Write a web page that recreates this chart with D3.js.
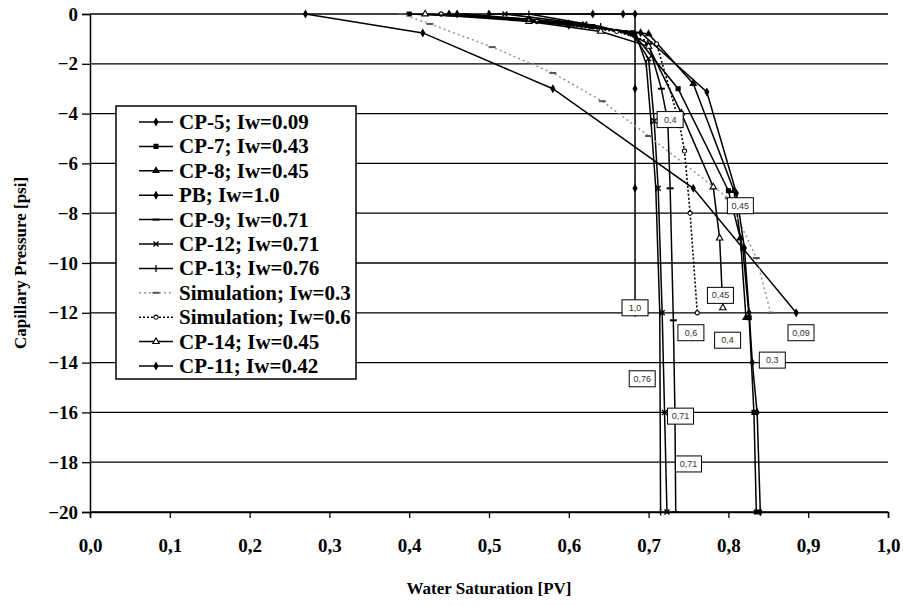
<!DOCTYPE html>
<html>
<head>
<meta charset="utf-8">
<script src="https://cdn.jsdelivr.net/npm/d3@7"></script>
<style>
  body { margin: 0; background: #ffffff; }
  svg { display: block; }
</style>
</head>
<body>
<svg></svg>
<script>
// Tick values
let xTicks = [0, 0.1, 0.2, 0.3, 0.4, 0.5, 0.6, 0.7, 0.8, 0.9, 1.0];
let yTicks = [0, -2, -4, -6, -8, -10, -12, -14, -16, -18, -20];

// Series: [water saturation, capillary pressure]
let cp5 = [[0.27, 0], [0.417, -0.76], [0.58, -3], [0.756, -7], [0.885, -12]];
let cp7 = [[0.40, 0], [0.55, -0.2], [0.63, -0.5], [0.68, -0.75], [0.737, -3], [0.80, -7.1], [0.818, -9.4], [0.826, -12.2], [0.832, -16], [0.835, -20]];
let cp8 = [[0.45, 0], [0.60, -0.4], [0.70, -0.8], [0.756, -2.8], [0.807, -7.1], [0.815, -9], [0.822, -12.2]];
let pb = [[0.50, 0], [0.63, 0], [0.668, 0], [0.683, 0], [0.683, -0.9], [0.683, -3], [0.683, -7], [0.683, -12]];
let cp9 = [[0.47, 0], [0.60, -0.35], [0.67, -0.7], [0.70, -1.2], [0.716, -3], [0.724, -4.3], [0.727, -7], [0.731, -12.3], [0.733, -16], [0.734, -20]];
let cp12 = [[0.52, 0], [0.62, -0.4], [0.68, -0.8], [0.70, -1.8], [0.707, -4.3], [0.712, -7], [0.717, -12], [0.72, -16], [0.723, -20]];
let cp13 = [[0.55, 0], [0.64, -0.5], [0.685, -0.9], [0.697, -2], [0.703, -4.3], [0.709, -7], [0.714, -12], [0.715, -20]];
let sim03 = [[0.39, 0], [0.426, -0.4], [0.504, -1.33], [0.58, -2.37], [0.642, -3.5], [0.70, -4.9], [0.80, -7.4], [0.835, -9.8], [0.853, -12]];
let sim06 = [[0.44, 0], [0.56, -0.3], [0.66, -0.7], [0.71, -1.2], [0.738, -4.3], [0.745, -5.5], [0.752, -8], [0.761, -12]];
let cp14 = [[0.42, 0], [0.55, -0.3], [0.64, -0.7], [0.70, -1.3], [0.741, -3.98], [0.781, -6.95], [0.789, -9], [0.793, -11.8]];
let cp11 = [[0.46, 0], [0.60, -0.45], [0.69, -0.75], [0.773, -3.13], [0.81, -7.2], [0.82, -9.4], [0.826, -12], [0.83, -14], [0.836, -16], [0.84, -20]];

// Legend names
let seriesNames = ['CP-5; Iw=0.09', 'CP-7; Iw=0.43', 'CP-8; Iw=0.45', 'PB; Iw=1.0', 'CP-9; Iw=0.71',
    'CP-12; Iw=0.71', 'CP-13; Iw=0.76', 'Simulation; Iw=0.3', 'Simulation; Iw=0.6', 'CP-14; Iw=0.45', 'CP-11; Iw=0.42'];

// Boxed labels inside the plot
let labelTexts = ['0,4', '0,45', '1,0', '0,45', '0,6', '0,4', '0,09', '0,3', '0,76', '0,71', '0,71'];
let labelSw = [0.727, 0.815, 0.683, 0.79, 0.753, 0.799, 0.891, 0.855, 0.692, 0.74, 0.75];
let labelPc = [-4.24, -7.7, -11.8, -11.3, -12.8, -13.1, -12.8, -13.9, -14.65, -16.15, -18.07];

// Series table (style per series)
let series = [
    { name: seriesNames[0], data: cp5, marker: 'diamond', color: '#000', dash: null },
    { name: seriesNames[1], data: cp7, marker: 'square', color: '#000', dash: null },
    { name: seriesNames[2], data: cp8, marker: 'triangle', color: '#000', dash: null },
    { name: seriesNames[3], data: pb, marker: 'diamond', color: '#000', dash: null },
    { name: seriesNames[4], data: cp9, marker: 'dash', color: '#000', dash: null },
    { name: seriesNames[5], data: cp12, marker: 'times', color: '#000', dash: null },
    { name: seriesNames[6], data: cp13, marker: 'tick', color: '#000', dash: null },
    { name: seriesNames[7], data: sim03, marker: 'dash', color: '#999', dash: '2,3' },
    { name: seriesNames[8], data: sim06, marker: 'circle', color: '#000', dash: '2,2' },
    { name: seriesNames[9], data: cp14, marker: 'triangleOpen', color: '#000', dash: null },
    { name: seriesNames[10], data: cp11, marker: 'diamond', color: '#000', dash: null }
];

// SVG Dimensions
let width = 903, height = 605;
let plotLeft = 90, plotRight = 888, plotTop = 14, plotBottom = 512;
let xScale, yScale;
let svg = d3.select('svg');

function drawSvg() {
    svg.attr('width', width).attr('height', height);
}

function generateScales() {
    xScale = d3.scaleLinear().domain([0, 1]).range([plotLeft, plotRight]);
    yScale = d3.scaleLinear().domain([0, -20]).range([plotTop, plotBottom]);
}

function generateAxes() {
    // horizontal grid lines
    svg.append('g')
        .selectAll('line')
        .data(yTicks)
        .enter()
        .append('line')
        .attr('x1', plotLeft)
        .attr('x2', plotRight)
        .attr('y1', d => yScale(d))
        .attr('y2', d => yScale(d))
        .attr('stroke', '#000')
        .attr('stroke-width', 1.3);

    let fmt = d => d3.format('.1f')(d).replace('.', ',');

    let xAxis = d3.axisBottom(xScale).tickValues(xTicks).tickFormat(fmt).tickSize(6).tickPadding(28);
    let gx = svg.append('g')
        .attr('id', 'x-axis')
        .attr('transform', `translate(0, ${plotBottom})`)
        .call(xAxis);

    let yAxis = d3.axisLeft(yScale).tickValues(yTicks).tickFormat(d3.format('d')).tickSize(8).tickPadding(4);
    let gy = svg.append('g')
        .attr('id', 'y-axis')
        .attr('transform', `translate(${plotLeft}, 0)`)
        .call(yAxis);

    [gx, gy].forEach(g => {
        g.select('.domain').attr('stroke', '#000').attr('stroke-width', 1.5);
        g.selectAll('.tick line').attr('stroke', '#000').attr('stroke-width', 1.3);
        g.selectAll('.tick text')
            .attr('fill', '#000')
            .style('font-family', '"Liberation Serif", "Times New Roman", serif')
            .style('font-weight', 'bold')
            .style('font-size', '19px');
    });
    gx.selectAll('.tick text').attr('dy', '0.32em');

    svg.append('text')
        .attr('x', (plotLeft + plotRight) / 2)
        .attr('y', 594)
        .attr('text-anchor', 'middle')
        .style('font-family', '"Liberation Serif", "Times New Roman", serif')
        .style('font-weight', 'bold')
        .style('font-size', '17px')
        .text('Water Saturation [PV]');

    svg.append('text')
        .attr('transform', `translate(26, ${(plotTop + plotBottom) / 2}) rotate(-90)`)
        .attr('text-anchor', 'middle')
        .style('font-family', '"Liberation Serif", "Times New Roman", serif')
        .style('font-weight', 'bold')
        .style('font-size', '17px')
        .text('Capillary Pressure [psi]');
}

// draw a single marker at (cx, cy)
function drawMarker(g, type, cx, cy, color) {
    let sym = {
        diamond: [d3.symbolDiamond, 13],
        square: [d3.symbolSquare, 16],
        triangle: [d3.symbolTriangle, 16],
        triangleOpen: [d3.symbolTriangle, 18],
        times: [d3.symbolTimes, 18],
        circle: [d3.symbolCircle, 14]
    };
    if (type === 'dash') {
        g.append('line').attr('x1', cx - 3.5).attr('x2', cx + 3.5).attr('y1', cy).attr('y2', cy)
            .attr('stroke', color).attr('stroke-width', 2);
    } else if (type === 'tick') {
        g.append('line').attr('x1', cx).attr('x2', cx).attr('y1', cy - 3.5).attr('y2', cy + 3.5)
            .attr('stroke', color).attr('stroke-width', 1.3);
    } else {
        let s = sym[type];
        let open = type === 'triangleOpen' || type === 'circle';
        g.append('path')
            .attr('d', d3.symbol().type(s[0]).size(s[1])())
            .attr('transform', `translate(${cx},${cy})`)
            .attr('fill', open ? '#fff' : color)
            .attr('stroke', color)
            .attr('stroke-width', type === 'times' ? 1.4 : 1.1);
    }
}

function drawLines() {
    let line = d3.line().x(d => xScale(d[0])).y(d => yScale(d[1]));
    let g = svg.append('g').attr('id', 'curves');
    series.forEach(s => {
        g.append('path')
            .datum(s.data)
            .attr('d', line)
            .attr('fill', 'none')
            .attr('stroke', s.color)
            .attr('stroke-width', s.dash ? 1.6 : 1.5)
            .attr('stroke-dasharray', s.dash);
        s.data.forEach(d => drawMarker(g, s.marker, xScale(d[0]), yScale(d[1]), s.color === '#999' ? '#555' : s.color));
    });
}

function drawLabels() {
    let g = svg.append('g').attr('id', 'labels');
    labelTexts.forEach((t, i) => {
        let cx = xScale(labelSw[i]), cy = yScale(labelPc[i]);
        g.append('rect')
            .attr('x', cx - 13).attr('y', cy - 8)
            .attr('width', 26).attr('height', 16)
            .attr('fill', '#fff').attr('stroke', '#000').attr('stroke-width', 1);
        g.append('text')
            .attr('x', cx).attr('y', cy + 3)
            .attr('text-anchor', 'middle')
            .style('font-family', '"Liberation Sans", Arial, sans-serif')
            .style('font-size', '9px')
            .attr('fill', '#333')
            .text(t);
    });
}

function drawLegend() {
    let lx = 116, ly = 106, rowH = 24.4;
    let g = svg.append('g').attr('id', 'legend');
    g.append('rect')
        .attr('x', lx).attr('y', ly)
        .attr('width', 240).attr('height', 273)
        .attr('fill', '#fff').attr('stroke', '#000').attr('stroke-width', 1.5);
    series.forEach((s, i) => {
        let cy = ly + 16 + i * rowH;
        g.append('line')
            .attr('x1', lx + 23).attr('x2', lx + 57)
            .attr('y1', cy).attr('y2', cy)
            .attr('stroke', s.color).attr('stroke-width', 1.5)
            .attr('stroke-dasharray', s.dash);
        drawMarker(g, s.marker, lx + 40, cy, s.color === '#999' ? '#555' : s.color);
        g.append('text')
            .attr('x', lx + 63).attr('y', cy + 7)
            .style('font-family', '"Liberation Serif", "Times New Roman", serif')
            .style('font-weight', 'bold')
            .style('font-size', '21px')
            .text(s.name);
    });
}

drawSvg();
generateScales();
generateAxes();
drawLines();
drawLabels();
drawLegend();
</script>
</body>
</html>
